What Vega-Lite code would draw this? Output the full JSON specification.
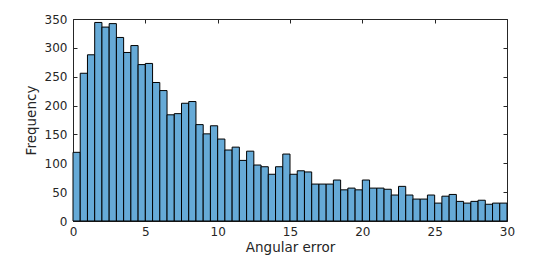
{
  "$schema": "https://vega.github.io/schema/vega-lite/v6.json",
  "autosize": "none",
  "width": 434,
  "height": 202,
  "padding": {"left": 73, "top": 19, "right": 53, "bottom": 38},
  "background": "white",
  "config": {
    "view": {"stroke": null},
    "font": "DejaVu Sans",
    "axis": {
      "domainColor": "#262626",
      "tickColor": "#262626",
      "labelColor": "#262626",
      "titleColor": "#262626",
      "labelFont": "DejaVu Sans",
      "titleFont": "DejaVu Sans",
      "labelFontSize": 12,
      "titleFontSize": 13.5,
      "titleFontWeight": "normal",
      "labelFlush": false,
      "labelOverlap": false,
      "grid": false,
      "tickSize": -4,
      "domainWidth": 1,
      "tickWidth": 1
    }
  },
  "data": {
    "values": [
      {"start": 0, "end": 0.5, "count": 119},
      {"start": 0.5, "end": 1, "count": 256},
      {"start": 1, "end": 1.5, "count": 288},
      {"start": 1.5, "end": 2, "count": 344},
      {"start": 2, "end": 2.5, "count": 336},
      {"start": 2.5, "end": 3, "count": 342},
      {"start": 3, "end": 3.5, "count": 318},
      {"start": 3.5, "end": 4, "count": 292},
      {"start": 4, "end": 4.5, "count": 304},
      {"start": 4.5, "end": 5, "count": 271},
      {"start": 5, "end": 5.5, "count": 273},
      {"start": 5.5, "end": 6, "count": 240},
      {"start": 6, "end": 6.5, "count": 226},
      {"start": 6.5, "end": 7, "count": 184},
      {"start": 7, "end": 7.5, "count": 186},
      {"start": 7.5, "end": 8, "count": 204},
      {"start": 8, "end": 8.5, "count": 207},
      {"start": 8.5, "end": 9, "count": 167},
      {"start": 9, "end": 9.5, "count": 151},
      {"start": 9.5, "end": 10, "count": 165},
      {"start": 10, "end": 10.5, "count": 142},
      {"start": 10.5, "end": 11, "count": 123},
      {"start": 11, "end": 11.5, "count": 128},
      {"start": 11.5, "end": 12, "count": 105},
      {"start": 12, "end": 12.5, "count": 121},
      {"start": 12.5, "end": 13, "count": 97},
      {"start": 13, "end": 13.5, "count": 94},
      {"start": 13.5, "end": 14, "count": 81},
      {"start": 14, "end": 14.5, "count": 94},
      {"start": 14.5, "end": 15, "count": 116},
      {"start": 15, "end": 15.5, "count": 81},
      {"start": 15.5, "end": 16, "count": 87},
      {"start": 16, "end": 16.5, "count": 85},
      {"start": 16.5, "end": 17, "count": 64},
      {"start": 17, "end": 17.5, "count": 64},
      {"start": 17.5, "end": 18, "count": 64},
      {"start": 18, "end": 18.5, "count": 71},
      {"start": 18.5, "end": 19, "count": 54},
      {"start": 19, "end": 19.5, "count": 57},
      {"start": 19.5, "end": 20, "count": 54},
      {"start": 20, "end": 20.5, "count": 71},
      {"start": 20.5, "end": 21, "count": 57},
      {"start": 21, "end": 21.5, "count": 57},
      {"start": 21.5, "end": 22, "count": 55},
      {"start": 22, "end": 22.5, "count": 45},
      {"start": 22.5, "end": 23, "count": 60},
      {"start": 23, "end": 23.5, "count": 45},
      {"start": 23.5, "end": 24, "count": 38},
      {"start": 24, "end": 24.5, "count": 38},
      {"start": 24.5, "end": 25, "count": 45},
      {"start": 25, "end": 25.5, "count": 31},
      {"start": 25.5, "end": 26, "count": 43},
      {"start": 26, "end": 26.5, "count": 46},
      {"start": 26.5, "end": 27, "count": 34},
      {"start": 27, "end": 27.5, "count": 31},
      {"start": 27.5, "end": 28, "count": 34},
      {"start": 28, "end": 28.5, "count": 36},
      {"start": 28.5, "end": 29, "count": 29},
      {"start": 29, "end": 29.5, "count": 31},
      {"start": 29.5, "end": 30, "count": 31}
    ]
  },
  "layer": [
    {
      "mark": {"type": "rect", "fill": "#66AAD7", "stroke": "#000000", "strokeWidth": 1},
      "encoding": {
        "x": {
          "field": "start", "type": "quantitative",
          "scale": {"domain": [0, 30], "nice": false, "zero": false, "padding": 0},
          "axis": {"orient": "bottom", "values": [0, 5, 10, 15, 20, 25, 30], "title": "Angular error", "labelPadding": 9, "titlePadding": 3}
        },
        "x2": {"field": "end"},
        "y": {
          "field": "count", "type": "quantitative",
          "scale": {"domain": [0, 350], "nice": false, "padding": 0},
          "axis": {"orient": "left", "values": [0, 50, 100, 150, 200, 250, 300, 350], "title": "Frequency", "labelPadding": 10, "titlePadding": 6}
        },
        "y2": {"datum": 0}
      }
    },
    {
      "mark": {"type": "rule", "opacity": 0},
      "encoding": {
        "x": {
          "field": "start", "type": "quantitative",
          "scale": {"domain": [0, 30], "nice": false, "zero": false, "padding": 0},
          "axis": {"orient": "top", "values": [0, 5, 10, 15, 20, 25, 30], "labels": false, "title": null}
        },
        "y": {
          "field": "count", "type": "quantitative",
          "scale": {"domain": [0, 350], "nice": false, "padding": 0},
          "axis": {"orient": "right", "values": [0, 50, 100, 150, 200, 250, 300, 350], "labels": false, "title": null}
        }
      }
    }
  ],
  "resolve": {"axis": {"x": "independent", "y": "independent"}}
}
